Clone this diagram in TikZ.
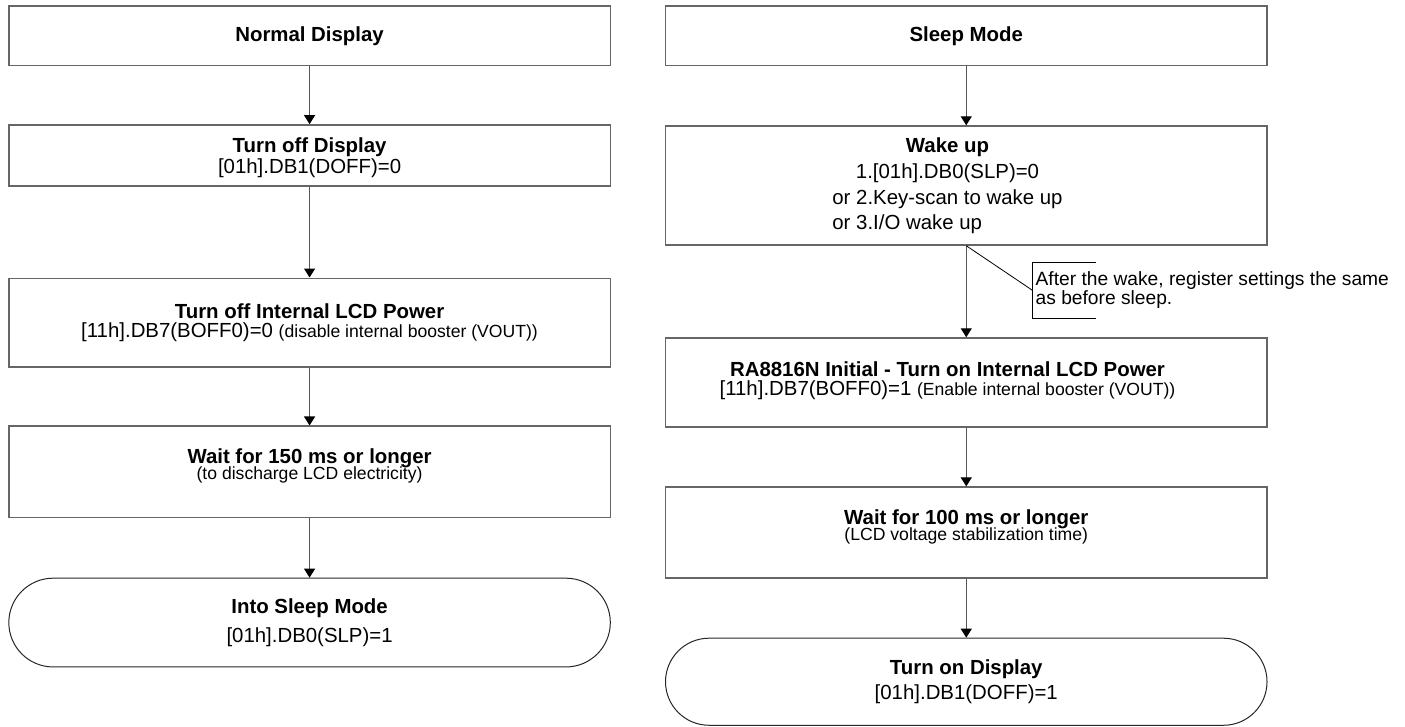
\documentclass[tikz,border=0pt]{standalone}
\usepackage{fontspec}
\setmainfont{Liberation Sans}
\usetikzlibrary{arrows.meta,positioning,shapes.misc}
\definecolor{boxgray}{HTML}{666666}
\definecolor{linegray}{HTML}{555555}
\newcommand{\mainsize}{\fontsize{10.2}{10.6}\selectfont}
\newcommand{\widesize}{\fontsize{10.2}{12.8}\selectfont}
\newcommand{\smallsize}{\fontsize{8.8}{9.4}\selectfont}
\newcommand{\notesize}{\fontsize{9.6}{9.2}\selectfont}
\tikzset{
  stepbox/.style={rectangle,draw=boxgray,line width=0.75pt,minimum width=10.57cm,align=center,font=\mainsize,inner sep=0pt},
  steptext/.style={align=center,font=\mainsize,inner sep=0pt},
  termnode/.style={rounded rectangle,draw=black!85,line width=0.5pt,minimum width=10.57cm,align=center,font=\widesize,inner sep=0pt},
  flowedge/.style={-{Triangle[width=5.5pt,length=4.5pt,color=black]},linegray,line width=0.6pt},
  noteline/.style={black,line width=0.4pt},
  notetext/.style={align=left,font=\notesize,inner xsep=1.5pt,inner ysep=0pt,minimum height=0.98cm},
}

\begin{document}
\begin{tikzpicture}
  \useasboundingbox (0,0) rectangle (24.69,-12.76);
  % left column
  \node[stepbox,minimum height=1.05cm] (ndisp) at (5.44,-0.63) {\textbf{Normal Display}};
  \node[stepbox,minimum height=1.07cm] (doff) at (5.44,-2.73) {};
  \node[steptext] (dofftxt) at ([yshift=-0.04cm]doff.center) {\textbf{Turn off Display}\\{}[01h].DB1(DOFF)=0};
  \node[stepbox,minimum height=1.56cm] (poff) at (5.44,-5.67) {\textbf{Turn off Internal LCD Power}\\[-1.5pt]{}[11h].DB7(BOFF0)=0 {\smallsize(disable internal booster (VOUT))}};
  \node[stepbox,minimum height=1.60cm] (wait1) at (5.44,-8.29) {};
  \node[steptext] (wait1txt) at ([yshift=0.1cm]wait1.center) {\textbf{Wait for 150 ms or longer}\\[-2.5pt]{\smallsize(to discharge LCD electricity)}};
  \node[termnode,minimum height=1.56cm] (sleep) at (5.44,-10.94) {\textbf{Into Sleep Mode}\\[1.5pt]{}[01h].DB0(SLP)=1};
  \draw[flowedge] (ndisp.south) -- (doff.north);
  \draw[flowedge] (doff.south) -- (poff.north);
  \draw[flowedge] (poff.south) -- (wait1.north);
  \draw[flowedge] (wait1.south) -- (sleep.north);
  % right column
  \node[stepbox,minimum height=1.05cm] (smode) at (16.98,-0.63) {\textbf{Sleep Mode}};
  \node[stepbox,minimum height=2.09cm] (wake) at (16.98,-3.26) {};
  \node[steptext,font=\widesize] (waketxt) at ([xshift=-0.33cm,yshift=-0.04cm]wake.center) {\textbf{Wake up}\\1.[01h].DB0(SLP)=0\\\begin{tabular}[t]{@{}l@{}}or 2.Key-scan to wake up\\or 3.I/O wake up\end{tabular}};
  \node[stepbox,minimum height=1.56cm] (pon) at (16.98,-6.72) {};
  \node[steptext] (pontxt) at ([xshift=-0.33cm,yshift=0.03cm]pon.center) {\textbf{RA8816N Initial - Turn on Internal LCD Power}\\[-1.5pt]{}[11h].DB7(BOFF0)=1 {\smallsize(Enable internal booster (VOUT))}};
  \node[stepbox,minimum height=1.60cm] (wait2) at (16.98,-9.36) {};
  \node[steptext] (wait2txt) at ([yshift=0.1cm]wait2.center) {\textbf{Wait for 100 ms or longer}\\[-2.5pt]{\smallsize(LCD voltage stabilization time)}};
  \node[termnode,minimum height=1.53cm] (don) at (16.98,-11.98) {\textbf{Turn on Display}\\{}[01h].DB1(DOFF)=1};
  \draw[flowedge] (smode.south) -- (wake.north);
  \draw[flowedge] (wake.south) -- (pon.north);
  \draw[flowedge] (pon.south) -- (wait2.north);
  \draw[flowedge] (wait2.south) -- (don.north);
  % note on the wake-up arrow
  \node[notetext,anchor=west] (note) at (18.14,-5.10) {After the wake, register settings the same\\as before sleep.};
  \draw[noteline] (wake.south) -- (note.west);
  \draw[noteline] ([xshift=1.12cm]note.north west) -- (note.north west) -- (note.south west) -- ++(1.12cm,0);
\end{tikzpicture}
\end{document}
